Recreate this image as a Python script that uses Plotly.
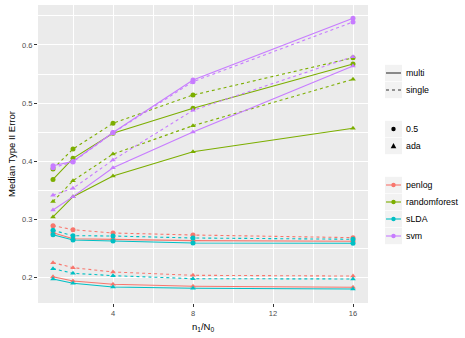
import plotly.graph_objects as go

# ratio n1/N0
x = [1, 2, 4, 8, 16]

# penlog
penlog_multi_05 = [0.2775, 0.2672, 0.2660, 0.2638, 0.2627]
penlog_single_05 = [0.2896, 0.2827, 0.2770, 0.2735, 0.2690]
penlog_multi_ada = [0.2019, 0.1945, 0.1888, 0.1854, 0.1838]
penlog_single_ada = [0.2260, 0.2174, 0.2100, 0.2043, 0.2030]

# randomforest
rf_multi_05 = [0.3690, 0.4053, 0.4483, 0.4912, 0.5674]
rf_single_05 = [0.3870, 0.4213, 0.4654, 0.5140, 0.5780]
rf_multi_ada = [0.3045, 0.3394, 0.3750, 0.4167, 0.4570]
rf_single_ada = [0.3310, 0.3669, 0.4127, 0.4614, 0.5410]

# sLDA
slda_multi_05 = [0.2740, 0.2650, 0.2632, 0.2598, 0.2593]
slda_single_05 = [0.2816, 0.2724, 0.2718, 0.2684, 0.2662]
slda_multi_ada = [0.1980, 0.1905, 0.1842, 0.1820, 0.1808]
slda_single_ada = [0.2157, 0.2077, 0.2037, 0.1985, 0.1980]

# svm
svm_multi_05 = [0.3926, 0.4000, 0.4497, 0.5399, 0.6459]
svm_single_05 = [0.3890, 0.3990, 0.4490, 0.5370, 0.6395]
svm_multi_ada = [0.3165, 0.3394, 0.3890, 0.4505, 0.5640]
svm_single_ada = [0.3420, 0.3538, 0.4024, 0.4878, 0.5800]

methods = ["penlog", "randomforest", "sLDA", "svm"]
colors = ["#F8766D", "#7CAE00", "#00BFC4", "#C77CFF"]
series = {
    "penlog": [penlog_multi_05, penlog_single_05, penlog_multi_ada, penlog_single_ada],
    "randomforest": [rf_multi_05, rf_single_05, rf_multi_ada, rf_single_ada],
    "sLDA": [slda_multi_05, slda_single_05, slda_multi_ada, slda_single_ada],
    "svm": [svm_multi_05, svm_single_05, svm_multi_ada, svm_single_ada],
}
combos = [("multi", "0.5"), ("single", "0.5"), ("multi", "ada"), ("single", "ada")]

dash = {"multi": "solid", "single": "3px,3px"}
symbol = {"0.5": "circle", "ada": "triangle-up"}

W, H = 465, 338
ML, MR, MT, MB = 38, 97, 5, 35
PW, PH = W - ML - MR, H - MT - MB

font = "Liberation Sans, Arial, sans-serif"
fig = go.Figure()

for m, c in zip(methods, colors):
    for (lt, sh), y in zip(combos, series[m]):
        fig.add_trace(go.Scatter(
            x=x, y=y, mode="lines+markers", showlegend=False, name=f"{m} {lt} {sh}",
            line=dict(color=c, width=1.1, dash=dash[lt]),
            marker=dict(color=c, size=5, symbol=symbol[sh]),
        ))


# ggplot-like legend drawn by hand (pixel positions -> paper coords)
def px(v):
    return (v - ML) / PW


def py(v):
    return (H - MB - v) / PH


shapes, annotations = [], []
key_x0, key_x1 = 385, 402
text_x = 404


def key(yc, label):
    shapes.append(dict(type="rect", xref="paper", yref="paper", layer="above",
                       x0=px(key_x0), x1=px(key_x1), y0=py(yc + 8.2), y1=py(yc - 8.2),
                       fillcolor="#F2F2F2", line=dict(width=0)))
    annotations.append(dict(text=label, xref="paper", yref="paper", x=px(text_x), y=py(yc),
                            xanchor="left", yanchor="middle", showarrow=False,
                            font=dict(size=8.8, color="black")))


def key_line(yc, color, dsh):
    shapes.append(dict(type="line", xref="paper", yref="paper", layer="above",
                       x0=px(key_x0 + 1), x1=px(key_x1 - 1), y0=py(yc), y1=py(yc),
                       line=dict(color=color, width=1.1, dash=dsh)))


def key_dot(yc, color, r=2.2):
    xc = (key_x0 + key_x1) / 2
    shapes.append(dict(type="circle", xref="paper", yref="paper", layer="above",
                       x0=px(xc - r), x1=px(xc + r), y0=py(yc + r), y1=py(yc - r),
                       fillcolor=color, line=dict(width=0)))


def key_tri(yc, color, r=2.8):
    xc = (key_x0 + key_x1) / 2
    path = "M {} {} L {} {} L {} {} Z".format(px(xc - r), py(yc + r * 0.8), px(xc + r), py(yc + r * 0.8),
                                             px(xc), py(yc - r * 1.1))
    shapes.append(dict(type="path", xref="paper", yref="paper", layer="above", path=path,
                       fillcolor=color, line=dict(width=0)))


legend_lt = [("multi", 73), ("single", 90)]
legend_sh = [("0.5", 129), ("ada", 146)]
legend_col = [185, 202, 219, 236]

for lt, yc in legend_lt:
    key(yc, lt)
    key_line(yc, "#333333", dash[lt])
for sh, yc in legend_sh:
    key(yc, sh)
    if sh == "0.5":
        key_dot(yc, "black")
    else:
        key_tri(yc, "black")
for m, c, yc in zip(methods, colors, legend_col):
    key(yc, m)
    key_line(yc, c, "solid")
    key_dot(yc, c)

fig.update_layout(
    width=W, height=H, showlegend=False,
    margin=dict(l=ML, r=MR, t=MT, b=MB),
    paper_bgcolor="white", plot_bgcolor="#EBEBEB",
    font=dict(family=font, size=9, color="black"),
    shapes=shapes, annotations=annotations,
)
fig.update_xaxes(
    range=[0.25, 16.75], tickvals=[4, 8, 12, 16], showline=False, zeroline=False,
    automargin=False, gridcolor="white", gridwidth=1.1,
    minor=dict(tickvals=[2, 6, 10, 14], showgrid=True, gridcolor="white", gridwidth=0.5, ticks=""),
    ticks="outside", ticklen=3, tickcolor="#333333", tickwidth=1,
    tickfont=dict(size=7.5, color="#4D4D4D"),
    title=dict(text="n<sub>1</sub>/N<sub>0</sub>", font=dict(size=9.5), standoff=6),
)
fig.update_yaxes(
    range=[0.1567, 0.6687], tickvals=[0.2, 0.3, 0.4, 0.5, 0.6], showline=False, zeroline=False,
    automargin=False, gridcolor="white", gridwidth=1.1,
    minor=dict(tickvals=[0.25, 0.35, 0.45, 0.55, 0.65], showgrid=True, gridcolor="white", gridwidth=0.5, ticks=""),
    ticks="outside", ticklen=3, tickcolor="#333333", tickwidth=1,
    tickfont=dict(size=7.5, color="#4D4D4D"),
    title=dict(text="Median Type II Error", font=dict(size=9.5), standoff=4),
)

# drop the browser's default 8px page margin so the figure sits at the window corner
fig.write_html("out.html", config={"displayModeBar": False},
               post_script="document.body.style.margin = '0';")
